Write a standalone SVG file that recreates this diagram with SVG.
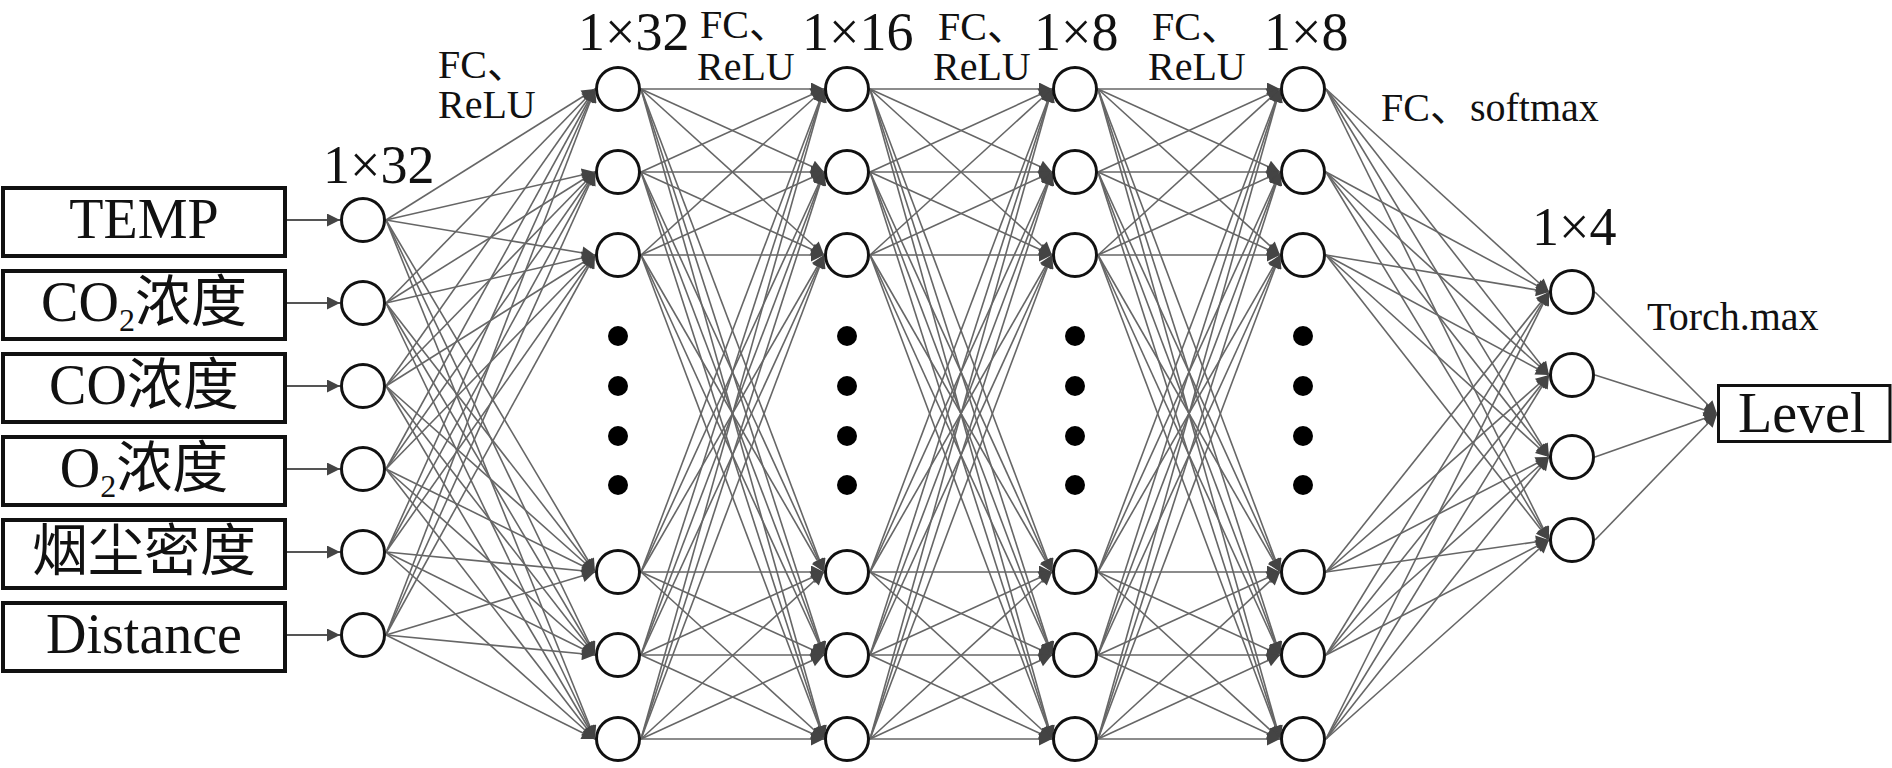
<svg xmlns="http://www.w3.org/2000/svg" width="1892" height="768" viewBox="0 0 1892 768">
<style>
.box{fill:#fff;stroke:#111;stroke-width:4}
.lvl{fill:#fff;stroke:#111;stroke-width:3}
.nd{fill:#fff;stroke:#111;stroke-width:3}
.dot{fill:#000}
.t{font-family:"Liberation Serif","Noto Sans CJK SC",serif;fill:#111}
.bt{font-size:56px;text-anchor:middle}
.dim{font-size:54px}
.lab{font-size:40px}
#connectors line{stroke:#666;stroke-width:1.6;marker-end:url(#ah)}
#connectors .in{stroke:#555;stroke-width:2}
</style>
<defs>
<marker id="ah" viewBox="0 0 10 10" refX="10" refY="5" markerWidth="17" markerHeight="13" markerUnits="userSpaceOnUse" orient="auto">
<path d="M0,0L10,5L0,10z" fill="#444"/>
</marker>
</defs>
<rect width="1892" height="768" fill="#fff"/>
<g id="connectors">
<line class="in" x1="287" y1="220" x2="340" y2="220"/>
<line class="in" x1="287" y1="303" x2="340" y2="303"/>
<line class="in" x1="287" y1="386" x2="340" y2="386"/>
<line class="in" x1="287" y1="469" x2="340" y2="469"/>
<line class="in" x1="287" y1="552" x2="340" y2="552"/>
<line class="in" x1="287" y1="635" x2="340" y2="635"/>
<line x1="386" y1="220" x2="595" y2="89"/><line x1="386" y1="220" x2="595" y2="172"/><line x1="386" y1="220" x2="595" y2="255"/><line x1="386" y1="220" x2="595" y2="572"/><line x1="386" y1="220" x2="595" y2="655"/><line x1="386" y1="220" x2="595" y2="739"/>
<line x1="386" y1="303" x2="595" y2="89"/><line x1="386" y1="303" x2="595" y2="172"/><line x1="386" y1="303" x2="595" y2="255"/><line x1="386" y1="303" x2="595" y2="572"/><line x1="386" y1="303" x2="595" y2="655"/><line x1="386" y1="303" x2="595" y2="739"/>
<line x1="386" y1="386" x2="595" y2="89"/><line x1="386" y1="386" x2="595" y2="172"/><line x1="386" y1="386" x2="595" y2="255"/><line x1="386" y1="386" x2="595" y2="572"/><line x1="386" y1="386" x2="595" y2="655"/><line x1="386" y1="386" x2="595" y2="739"/>
<line x1="386" y1="469" x2="595" y2="89"/><line x1="386" y1="469" x2="595" y2="172"/><line x1="386" y1="469" x2="595" y2="255"/><line x1="386" y1="469" x2="595" y2="572"/><line x1="386" y1="469" x2="595" y2="655"/><line x1="386" y1="469" x2="595" y2="739"/>
<line x1="386" y1="552" x2="595" y2="89"/><line x1="386" y1="552" x2="595" y2="172"/><line x1="386" y1="552" x2="595" y2="255"/><line x1="386" y1="552" x2="595" y2="572"/><line x1="386" y1="552" x2="595" y2="655"/><line x1="386" y1="552" x2="595" y2="739"/>
<line x1="386" y1="635" x2="595" y2="89"/><line x1="386" y1="635" x2="595" y2="172"/><line x1="386" y1="635" x2="595" y2="255"/><line x1="386" y1="635" x2="595" y2="572"/><line x1="386" y1="635" x2="595" y2="655"/><line x1="386" y1="635" x2="595" y2="739"/>
<line x1="641" y1="89" x2="824" y2="89"/><line x1="641" y1="89" x2="824" y2="172"/><line x1="641" y1="89" x2="824" y2="255"/><line x1="641" y1="89" x2="824" y2="572"/><line x1="641" y1="89" x2="824" y2="655"/><line x1="641" y1="89" x2="824" y2="739"/>
<line x1="641" y1="172" x2="824" y2="89"/><line x1="641" y1="172" x2="824" y2="172"/><line x1="641" y1="172" x2="824" y2="255"/><line x1="641" y1="172" x2="824" y2="572"/><line x1="641" y1="172" x2="824" y2="655"/><line x1="641" y1="172" x2="824" y2="739"/>
<line x1="641" y1="255" x2="824" y2="89"/><line x1="641" y1="255" x2="824" y2="172"/><line x1="641" y1="255" x2="824" y2="255"/><line x1="641" y1="255" x2="824" y2="572"/><line x1="641" y1="255" x2="824" y2="655"/><line x1="641" y1="255" x2="824" y2="739"/>
<line x1="641" y1="572" x2="824" y2="89"/><line x1="641" y1="572" x2="824" y2="172"/><line x1="641" y1="572" x2="824" y2="255"/><line x1="641" y1="572" x2="824" y2="572"/><line x1="641" y1="572" x2="824" y2="655"/><line x1="641" y1="572" x2="824" y2="739"/>
<line x1="641" y1="655" x2="824" y2="89"/><line x1="641" y1="655" x2="824" y2="172"/><line x1="641" y1="655" x2="824" y2="255"/><line x1="641" y1="655" x2="824" y2="572"/><line x1="641" y1="655" x2="824" y2="655"/><line x1="641" y1="655" x2="824" y2="739"/>
<line x1="641" y1="739" x2="824" y2="89"/><line x1="641" y1="739" x2="824" y2="172"/><line x1="641" y1="739" x2="824" y2="255"/><line x1="641" y1="739" x2="824" y2="572"/><line x1="641" y1="739" x2="824" y2="655"/><line x1="641" y1="739" x2="824" y2="739"/>
<line x1="870" y1="89" x2="1052" y2="89"/><line x1="870" y1="89" x2="1052" y2="172"/><line x1="870" y1="89" x2="1052" y2="255"/><line x1="870" y1="89" x2="1052" y2="572"/><line x1="870" y1="89" x2="1052" y2="655"/><line x1="870" y1="89" x2="1052" y2="739"/>
<line x1="870" y1="172" x2="1052" y2="89"/><line x1="870" y1="172" x2="1052" y2="172"/><line x1="870" y1="172" x2="1052" y2="255"/><line x1="870" y1="172" x2="1052" y2="572"/><line x1="870" y1="172" x2="1052" y2="655"/><line x1="870" y1="172" x2="1052" y2="739"/>
<line x1="870" y1="255" x2="1052" y2="89"/><line x1="870" y1="255" x2="1052" y2="172"/><line x1="870" y1="255" x2="1052" y2="255"/><line x1="870" y1="255" x2="1052" y2="572"/><line x1="870" y1="255" x2="1052" y2="655"/><line x1="870" y1="255" x2="1052" y2="739"/>
<line x1="870" y1="572" x2="1052" y2="89"/><line x1="870" y1="572" x2="1052" y2="172"/><line x1="870" y1="572" x2="1052" y2="255"/><line x1="870" y1="572" x2="1052" y2="572"/><line x1="870" y1="572" x2="1052" y2="655"/><line x1="870" y1="572" x2="1052" y2="739"/>
<line x1="870" y1="655" x2="1052" y2="89"/><line x1="870" y1="655" x2="1052" y2="172"/><line x1="870" y1="655" x2="1052" y2="255"/><line x1="870" y1="655" x2="1052" y2="572"/><line x1="870" y1="655" x2="1052" y2="655"/><line x1="870" y1="655" x2="1052" y2="739"/>
<line x1="870" y1="739" x2="1052" y2="89"/><line x1="870" y1="739" x2="1052" y2="172"/><line x1="870" y1="739" x2="1052" y2="255"/><line x1="870" y1="739" x2="1052" y2="572"/><line x1="870" y1="739" x2="1052" y2="655"/><line x1="870" y1="739" x2="1052" y2="739"/>
<line x1="1098" y1="89" x2="1280" y2="89"/><line x1="1098" y1="89" x2="1280" y2="172"/><line x1="1098" y1="89" x2="1280" y2="255"/><line x1="1098" y1="89" x2="1280" y2="572"/><line x1="1098" y1="89" x2="1280" y2="655"/><line x1="1098" y1="89" x2="1280" y2="739"/>
<line x1="1098" y1="172" x2="1280" y2="89"/><line x1="1098" y1="172" x2="1280" y2="172"/><line x1="1098" y1="172" x2="1280" y2="255"/><line x1="1098" y1="172" x2="1280" y2="572"/><line x1="1098" y1="172" x2="1280" y2="655"/><line x1="1098" y1="172" x2="1280" y2="739"/>
<line x1="1098" y1="255" x2="1280" y2="89"/><line x1="1098" y1="255" x2="1280" y2="172"/><line x1="1098" y1="255" x2="1280" y2="255"/><line x1="1098" y1="255" x2="1280" y2="572"/><line x1="1098" y1="255" x2="1280" y2="655"/><line x1="1098" y1="255" x2="1280" y2="739"/>
<line x1="1098" y1="572" x2="1280" y2="89"/><line x1="1098" y1="572" x2="1280" y2="172"/><line x1="1098" y1="572" x2="1280" y2="255"/><line x1="1098" y1="572" x2="1280" y2="572"/><line x1="1098" y1="572" x2="1280" y2="655"/><line x1="1098" y1="572" x2="1280" y2="739"/>
<line x1="1098" y1="655" x2="1280" y2="89"/><line x1="1098" y1="655" x2="1280" y2="172"/><line x1="1098" y1="655" x2="1280" y2="255"/><line x1="1098" y1="655" x2="1280" y2="572"/><line x1="1098" y1="655" x2="1280" y2="655"/><line x1="1098" y1="655" x2="1280" y2="739"/>
<line x1="1098" y1="739" x2="1280" y2="89"/><line x1="1098" y1="739" x2="1280" y2="172"/><line x1="1098" y1="739" x2="1280" y2="255"/><line x1="1098" y1="739" x2="1280" y2="572"/><line x1="1098" y1="739" x2="1280" y2="655"/><line x1="1098" y1="739" x2="1280" y2="739"/>
<line x1="1326" y1="89" x2="1549" y2="292"/><line x1="1326" y1="89" x2="1549" y2="375"/><line x1="1326" y1="89" x2="1549" y2="457"/><line x1="1326" y1="89" x2="1549" y2="540"/>
<line x1="1326" y1="172" x2="1549" y2="292"/><line x1="1326" y1="172" x2="1549" y2="375"/><line x1="1326" y1="172" x2="1549" y2="457"/><line x1="1326" y1="172" x2="1549" y2="540"/>
<line x1="1326" y1="255" x2="1549" y2="292"/><line x1="1326" y1="255" x2="1549" y2="375"/><line x1="1326" y1="255" x2="1549" y2="457"/><line x1="1326" y1="255" x2="1549" y2="540"/>
<line x1="1326" y1="572" x2="1549" y2="292"/><line x1="1326" y1="572" x2="1549" y2="375"/><line x1="1326" y1="572" x2="1549" y2="457"/><line x1="1326" y1="572" x2="1549" y2="540"/>
<line x1="1326" y1="655" x2="1549" y2="292"/><line x1="1326" y1="655" x2="1549" y2="375"/><line x1="1326" y1="655" x2="1549" y2="457"/><line x1="1326" y1="655" x2="1549" y2="540"/>
<line x1="1326" y1="739" x2="1549" y2="292"/><line x1="1326" y1="739" x2="1549" y2="375"/><line x1="1326" y1="739" x2="1549" y2="457"/><line x1="1326" y1="739" x2="1549" y2="540"/>
<line x1="1595" y1="292" x2="1717" y2="414"/><line x1="1595" y1="375" x2="1717" y2="414"/><line x1="1595" y1="457" x2="1717" y2="414"/><line x1="1595" y1="540" x2="1717" y2="414"/>
</g>
<g id="in-temp"><rect class="box" x="3" y="188" width="282" height="68"/><text class="t bt" x="144" y="238">TEMP</text></g>
<g id="in-co2"><rect class="box" x="3" y="271" width="282" height="68"/><text class="t bt" x="144" y="321">CO<tspan font-size="32" dy="10">2</tspan><tspan dy="-10">浓度</tspan></text></g>
<g id="in-co"><rect class="box" x="3" y="354" width="282" height="68"/><text class="t bt" x="144" y="404">CO浓度</text></g>
<g id="in-o2"><rect class="box" x="3" y="437" width="282" height="68"/><text class="t bt" x="144" y="487">O<tspan font-size="32" dy="10">2</tspan><tspan dy="-10">浓度</tspan></text></g>
<g id="in-dust"><rect class="box" x="3" y="520" width="282" height="68"/><text class="t bt" x="144" y="570">烟尘密度</text></g>
<g id="in-dist"><rect class="box" x="3" y="603" width="282" height="68"/><text class="t bt" x="144" y="653">Distance</text></g>
<g id="layer0">
<circle class="nd" cx="363" cy="220" r="21.5"/><circle class="nd" cx="363" cy="303" r="21.5"/><circle class="nd" cx="363" cy="386" r="21.5"/><circle class="nd" cx="363" cy="469" r="21.5"/><circle class="nd" cx="363" cy="552" r="21.5"/><circle class="nd" cx="363" cy="635" r="21.5"/>
<text class="t dim" x="323" y="183">1×32</text>
</g>
<g id="layer1">
<circle class="nd" cx="618" cy="89" r="21.5"/><circle class="nd" cx="618" cy="172" r="21.5"/><circle class="nd" cx="618" cy="255" r="21.5"/><circle class="nd" cx="618" cy="572" r="21.5"/><circle class="nd" cx="618" cy="655" r="21.5"/><circle class="nd" cx="618" cy="739" r="21.5"/>
<circle class="dot" cx="618" cy="336" r="10"/><circle class="dot" cx="618" cy="386" r="10"/><circle class="dot" cx="618" cy="436" r="10"/><circle class="dot" cx="618" cy="485" r="10"/>
<text class="t lab" x="438" y="78">FC、</text><text class="t lab" x="438" y="118">ReLU</text>
<text class="t dim" x="578" y="50">1×32</text>
</g>
<g id="layer2">
<circle class="nd" cx="847" cy="89" r="21.5"/><circle class="nd" cx="847" cy="172" r="21.5"/><circle class="nd" cx="847" cy="255" r="21.5"/><circle class="nd" cx="847" cy="572" r="21.5"/><circle class="nd" cx="847" cy="655" r="21.5"/><circle class="nd" cx="847" cy="739" r="21.5"/>
<circle class="dot" cx="847" cy="336" r="10"/><circle class="dot" cx="847" cy="386" r="10"/><circle class="dot" cx="847" cy="436" r="10"/><circle class="dot" cx="847" cy="485" r="10"/>
<text class="t lab" x="700" y="38">FC、</text><text class="t lab" x="697" y="80">ReLU</text>
<text class="t dim" x="802" y="50">1×16</text>
</g>
<g id="layer3">
<circle class="nd" cx="1075" cy="89" r="21.5"/><circle class="nd" cx="1075" cy="172" r="21.5"/><circle class="nd" cx="1075" cy="255" r="21.5"/><circle class="nd" cx="1075" cy="572" r="21.5"/><circle class="nd" cx="1075" cy="655" r="21.5"/><circle class="nd" cx="1075" cy="739" r="21.5"/>
<circle class="dot" cx="1075" cy="336" r="10"/><circle class="dot" cx="1075" cy="386" r="10"/><circle class="dot" cx="1075" cy="436" r="10"/><circle class="dot" cx="1075" cy="485" r="10"/>
<text class="t lab" x="938" y="40">FC、</text><text class="t lab" x="933" y="80">ReLU</text>
<text class="t dim" x="1034" y="50">1×8</text>
</g>
<g id="layer4">
<circle class="nd" cx="1303" cy="89" r="21.5"/><circle class="nd" cx="1303" cy="172" r="21.5"/><circle class="nd" cx="1303" cy="255" r="21.5"/><circle class="nd" cx="1303" cy="572" r="21.5"/><circle class="nd" cx="1303" cy="655" r="21.5"/><circle class="nd" cx="1303" cy="739" r="21.5"/>
<circle class="dot" cx="1303" cy="336" r="10"/><circle class="dot" cx="1303" cy="386" r="10"/><circle class="dot" cx="1303" cy="436" r="10"/><circle class="dot" cx="1303" cy="485" r="10"/>
<text class="t lab" x="1152" y="40">FC、</text><text class="t lab" x="1148" y="80">ReLU</text>
<text class="t dim" x="1264" y="50">1×8</text>
</g>
<g id="output">
<circle class="nd" cx="1572" cy="292" r="21.5"/><circle class="nd" cx="1572" cy="375" r="21.5"/><circle class="nd" cx="1572" cy="457" r="21.5"/><circle class="nd" cx="1572" cy="540" r="21.5"/>
<text class="t lab" x="1381" y="121">FC、softmax</text>
<text class="t dim" x="1532" y="245">1×4</text>
<text class="t lab" x="1647" y="330">Torch.max</text>
</g>
<g id="level"><rect class="lvl" x="1718.5" y="385.5" width="171.5" height="56"/><text class="t" font-size="56" x="1738" y="432">Level</text></g>
</svg>
